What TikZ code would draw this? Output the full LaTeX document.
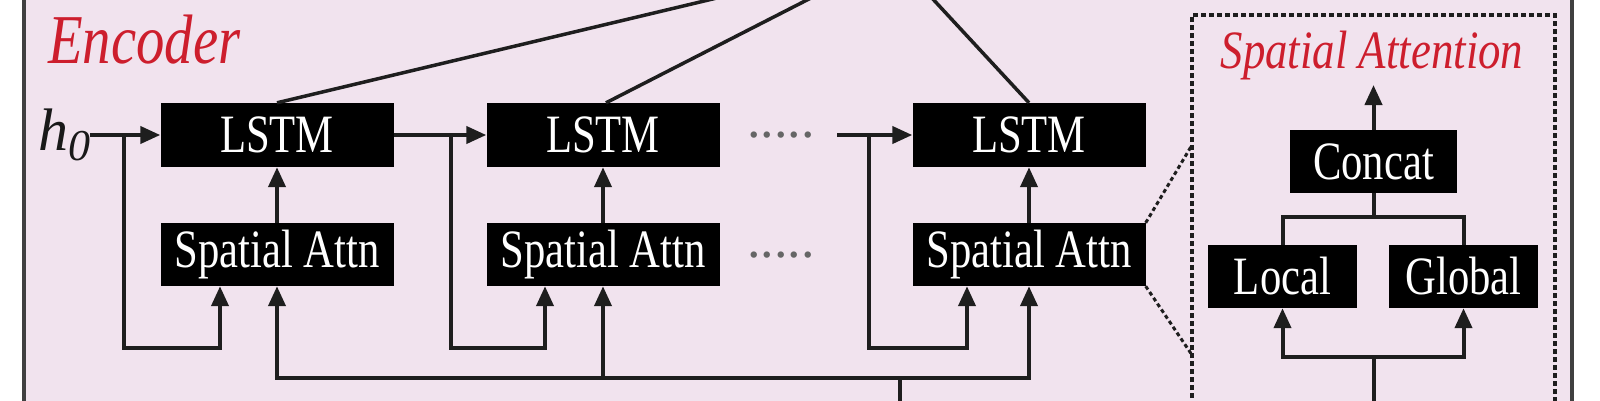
\documentclass[tikz,border=0pt]{standalone}
\usepackage{fontspec}
\setmainfont{Liberation Serif}
\usetikzlibrary{arrows.meta,calc}
\definecolor{bgpink}{RGB}{241,227,238}
\definecolor{lblred}{RGB}{205,30,45}
\definecolor{lncol}{RGB}{30,30,30}
\newcommand{\hsq}[2][0.79]{\scalebox{#1}[1]{#2}}
\tikzset{
  blk/.style={fill=black, text=white, inner sep=0pt, minimum height=64pt, font=\fontsize{54}{54}\selectfont},
  ln/.style={draw=lncol, line width=4pt},
  arr/.style={ln, -{Triangle[length=20pt,width=17pt]}},
  dotl/.style={draw=lncol, line width=3pt, dash pattern=on 4pt off 3pt},
  dotsym/.style={anchor=base, inner sep=0pt, text=black!60, font=\fontsize{54}{54}\selectfont},
}
\begin{document}
\begin{tikzpicture}[x=1pt,y=-1pt]
\clip (0,0) rectangle (1600,400);
\fill[white] (0,0) rectangle (1600,400);
\fill[bgpink] (24,-10) rectangle (1572,410);
\draw[draw=black!75, line width=4pt] (24,-10) -- (24,410) (1572,-10) -- (1572,410);

% labels
\node[anchor=base west, inner sep=0pt, text=lblred, font=\fontsize{70}{70}\selectfont\itshape] (enc) at (48,63) {\hsq[0.81]{Encoder}};
\node[anchor=base, inner sep=0pt, text=lblred, font=\fontsize{54}{54}\selectfont\itshape] (satitle) at (1372,68) {\hsq[0.83]{Spatial Attention}};
\node[anchor=base west, inner sep=0pt, text=black!90, font=\fontsize{60}{60}\selectfont\itshape] (h0) at (38,150) {h\raisebox{-10pt}{\fontsize{44}{44}\selectfont 0}};

% encoder boxes
\node[blk, minimum width=233pt] (lstm1) at (277,135) {\hsq{LSTM}};
\node[blk, minimum width=233pt] (lstm2) at (603,135) {\hsq{LSTM}};
\node[blk, minimum width=233pt] (lstm3) at (1029,135) {\hsq{LSTM}};
\node[blk, minimum width=233pt, minimum height=63pt] (sa1) at (277,254.5) {\hsq{Spatial Attn}};
\node[blk, minimum width=233pt, minimum height=63pt] (sa2) at (603,254.5) {\hsq{Spatial Attn}};
\node[blk, minimum width=233pt, minimum height=63pt] (sa3) at (1029,254.5) {\hsq{Spatial Attn}};
\node[dotsym] (dots1) at (781,137) {.....};
\node[dotsym] (dots2) at (781,257) {.....};

% spatial attention detail
\node[blk, minimum width=167pt, minimum height=63pt] (concat) at (1373.5,161.5) {\hsq{Concat}};
\node[blk, minimum width=149pt, minimum height=63pt] (local) at (1282.5,276.5) {\hsq{Local}};
\node[blk, minimum width=149pt, minimum height=63pt] (global) at (1463.5,276.5) {\hsq{Global}};

% coordinates
\coordinate (low) at (0,348);
\coordinate (b1) at (124,135);
\coordinate (b2) at (451,135);
\coordinate (b3) at (869,135);
\coordinate (l3in) at (837,135);
\coordinate (sa1l) at ([xshift=-57pt]sa1.south);
\coordinate (sa2l) at ([xshift=-58pt]sa2.south);
\coordinate (sa3l) at ([xshift=-62pt]sa3.south);
\coordinate (top) at (893,-44);
\coordinate (enin) at (900,410);
\coordinate (enj) at (900,378);
\coordinate (zoomA) at (1192,145);
\coordinate (zoomB) at (1192,355);
\coordinate (saout) at (1373.5,85);
\coordinate (sain) at (1373.5,410);
\coordinate (sajn) at (1373.5,357);

% encoder connectors
\draw[arr] (h0.east |- lstm1.west) -- (lstm1.west);
\draw[arr] (lstm1.east) -- (lstm2.west);
\draw[arr] (l3in) -- (lstm3.west);
\draw[arr] (b1) -- (b1 |- low) -| (sa1l);
\draw[arr] (b2) -- (b2 |- low) -| (sa2l);
\draw[arr] (b3) -- (b3 |- low) -| (sa3l);
\draw[arr] (sa1.north) -- (lstm1.south);
\draw[arr] (sa2.north) -- (lstm2.south);
\draw[arr] (sa3.north) -- (lstm3.south);
\draw[ln] (enin) -- (enj);
\draw[arr] (enj) -| (sa1.south);
\draw[arr] (enj) -| (sa2.south);
\draw[arr] (enj) -| (sa3.south);
\draw[ln, line width=3.5pt] (lstm1.north) -- (top);
\draw[ln, line width=3.5pt] ([xshift=3pt]lstm2.north) -- (top);
\draw[ln, line width=3.5pt] (lstm3.north) -- (top);

% zoom lines and detail box
\draw[dotl] (sa3.north east) -- (zoomA);
\draw[dotl] (sa3.south east) -- (zoomB);
\draw[dotl, line width=3.5pt, dash pattern=on 5pt off 3pt] (1192,430) -- (1192,15) -- (1555,15) -- (1555,430);

% detail connectors
\draw[arr] (concat.north) -- (saout);
\draw[ln] (concat.south) -- ++(0,24) -| (local.north);
\draw[ln] (concat.south) -- ++(0,24) -| (global.north);
\draw[ln] (sain) -- (sajn);
\draw[arr] (sajn) -| (local.south);
\draw[arr] (sajn) -| (global.south);
\end{tikzpicture}
\end{document}
